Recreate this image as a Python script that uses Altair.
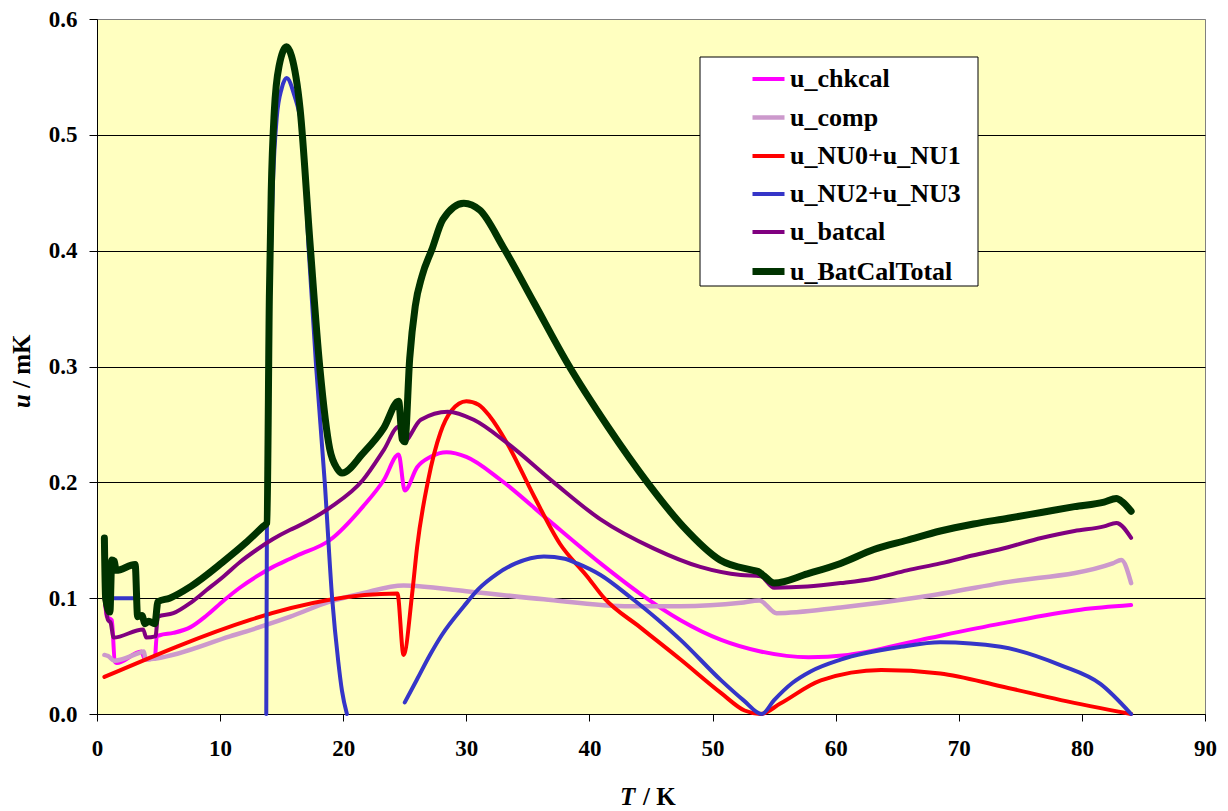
import altair as alt
import pandas as pd

# ---------------- data ----------------
names = ["u_chkcal", "u_comp", "u_NU0+u_NU1", "u_NU2+u_NU3", "u_batcal", "u_BatCalTotal"]
colors = ["#FF00FF", "#CC99CC", "#FF0000", "#3535C8", "#800080", "#003300"]
line_widths = [4, 4.5, 4, 4, 4, 7]

chk_T = [0.6, 0.8, 1.2, 1.45, 1.6, 3.6, 3.9, 4.7, 4.85, 5.1, 6.2, 7.6, 8.9, 10.3, 11.6, 13.0, 14.3,
         15.7, 16.3, 18.9, 21.6, 23.3, 24.5, 25.0, 26.0, 27.1, 28.4, 30.0, 32.8, 36.6, 40.9, 44.1,
         47.4, 50.7, 53.9, 57.8, 61.0, 66.9, 73.4, 79.9, 84.0]
chk_u = [0.104, 0.084, 0.081, 0.045, 0.044, 0.054, 0.047, 0.048, 0.067, 0.068, 0.070, 0.075, 0.085,
         0.098, 0.109, 0.119, 0.127, 0.134, 0.137, 0.150, 0.179, 0.202, 0.224, 0.193, 0.213, 0.222,
         0.226, 0.222, 0.202, 0.168, 0.130, 0.104, 0.081, 0.064, 0.054, 0.049, 0.051, 0.064, 0.078,
         0.090, 0.094]

comp_T = [0.6, 0.9, 1.4, 3.5, 3.8, 3.95, 4.8, 10.8, 13.5, 15.7, 18.9, 21.5, 24.9, 30.0, 36.3, 43.3,
          47.4, 52.3, 53.8, 55.2, 60.4, 66.9, 73.4, 82.5, 83.2, 84.0]
comp_u = [0.051, 0.050, 0.046, 0.053, 0.054, 0.047, 0.048, 0.067, 0.076, 0.084, 0.097, 0.104, 0.111,
          0.106, 0.099, 0.093, 0.093, 0.096, 0.098, 0.087, 0.092, 0.101, 0.113, 0.130, 0.133, 0.113]

nu01_T = [0.6, 24.4, 24.9, 25.6, 26.0, 26.9, 27.9, 28.8, 30.0, 31.0, 31.9, 33.3, 35.5, 37.6, 39.8,
          41.2, 44.1, 47.4, 50.7, 52.6, 53.9, 55.5, 58.8, 63.7, 68.5, 73.4, 78.3, 84.0]
nu01_u = [0.032, 0.104, 0.051, 0.104, 0.144, 0.202, 0.243, 0.262, 0.270, 0.267, 0.257, 0.234, 0.188,
          0.147, 0.119, 0.100, 0.075, 0.047, 0.018, 0.003, 0.000, 0.009, 0.029, 0.038, 0.035, 0.024,
          0.012, 0.000]

# u_NU2+u_NU3 has three separate pieces
nu23_T1 = [0.6, 3.1]
nu23_u1 = [0.100, 0.100]
nu23_T2 = [13.75, 13.8, 14.0, 14.3, 14.6, 15.0, 15.4, 16.0, 16.7, 17.2, 17.8, 18.5, 19.1, 19.6,
           19.9, 20.3]
nu23_u2 = [0.000, 0.160, 0.330, 0.460, 0.515, 0.540, 0.549, 0.535, 0.500, 0.400, 0.300, 0.200,
           0.100, 0.045, 0.020, 0.000]
nu23_T3 = [25.0, 26.0, 27.1, 28.0, 29.8, 31.0, 32.5, 34.0, 36.3, 38.0, 39.0, 40.9, 43.3, 45.5,
           47.4, 50.7, 52.5, 54.0, 55.0, 56.5, 58.0, 60.4, 65.3, 68.5, 73.4, 78.3, 81.5, 84.0]
nu23_u3 = [0.010, 0.030, 0.052, 0.068, 0.093, 0.108, 0.121, 0.130, 0.136, 0.134, 0.130, 0.120,
           0.101, 0.082, 0.064, 0.029, 0.012, 0.000, 0.012, 0.027, 0.037, 0.047, 0.058, 0.062,
           0.058, 0.042, 0.026, 0.000]

bat_T = [0.6, 0.9, 1.1, 1.35, 3.75, 4.0, 4.75, 4.95, 6.2, 7.6, 8.9, 10.3, 11.6, 13.0, 14.3, 15.7,
         16.3, 18.9, 21.6, 23.3, 24.5, 24.9, 26.3, 28.5, 30.6, 33.3, 37.1, 40.9, 45.2, 49.0, 52.3,
         53.9, 55.0, 57.7, 60.4, 63.1, 65.8, 68.5, 71.2, 74.0, 76.7, 79.4, 81.8, 82.8, 84.0]
bat_u = [0.101, 0.081, 0.079, 0.066, 0.073, 0.066, 0.067, 0.084, 0.087, 0.096, 0.107, 0.119, 0.131,
         0.142, 0.151, 0.159, 0.162, 0.178, 0.202, 0.228, 0.248, 0.235, 0.254, 0.261, 0.254, 0.234,
         0.200, 0.168, 0.143, 0.127, 0.120, 0.119, 0.109, 0.110, 0.113, 0.117, 0.124, 0.130, 0.137,
         0.144, 0.152, 0.158, 0.162, 0.165, 0.152]

tot_T = [0.6, 0.7, 1.05, 1.2, 1.4, 1.55, 3.1, 3.3, 3.65, 3.9, 4.2, 4.7, 4.95, 5.9, 7.6, 10.2, 12.0,
         13.5, 13.8, 14.0, 14.15, 14.4, 14.8, 15.4, 15.8, 16.5, 17.3, 18.1, 18.9, 19.5, 19.9, 21.6,
         23.3, 24.5, 24.8, 25.0, 25.4, 25.85, 26.4, 27.2, 28.1, 29.8, 31.1, 33.0, 35.5, 38.2, 41.5,
         44.7, 47.6, 50.6, 53.3, 53.7, 54.2, 55.0, 57.7, 60.4, 63.1, 65.8, 68.5, 71.2, 74.0, 76.7,
         79.4, 81.8, 82.8, 83.3, 84.0]
tot_u = [0.152, 0.100, 0.088, 0.133, 0.132, 0.124, 0.129, 0.084, 0.085, 0.078, 0.080, 0.078, 0.097,
         0.100, 0.110, 0.131, 0.147, 0.162, 0.165, 0.360, 0.450, 0.520, 0.560, 0.576, 0.568, 0.522,
         0.407, 0.299, 0.229, 0.212, 0.208, 0.225, 0.247, 0.270, 0.237, 0.235, 0.307, 0.352, 0.378,
         0.401, 0.427, 0.441, 0.435, 0.403, 0.355, 0.303, 0.248, 0.200, 0.162, 0.133, 0.124, 0.123,
         0.119, 0.113, 0.121, 0.130, 0.142, 0.150, 0.158, 0.164, 0.169, 0.174, 0.179, 0.183, 0.186,
         0.183, 0.175]

x_ticks = [0, 10, 20, 30, 40, 50, 60, 70, 80, 90]
y_ticks = [0.0, 0.1, 0.2, 0.3, 0.4, 0.5, 0.6]


def frame(name, pieces):
    rows = []
    for k, (ts, us) in enumerate(pieces):
        for t, u in zip(ts, us):
            rows.append({"T": t, "u": u, "series": name, "seg": f"{name}-{k}"})
    return pd.DataFrame(rows)


series_data = [
    frame(names[0], [(chk_T, chk_u)]),
    frame(names[1], [(comp_T, comp_u)]),
    frame(names[2], [(nu01_T, nu01_u)]),
    frame(names[3], [(nu23_T1, nu23_u1), (nu23_T2, nu23_u2), (nu23_T3, nu23_u3)]),
    frame(names[4], [(bat_T, bat_u)]),
    frame(names[5], [(tot_T, tot_u)]),
]

FONT = "Liberation Serif"
W, H = 1108, 695

legend = alt.Legend(
    title=None, orient="none", legendX=652, legendY=42, padding=0,
    symbolType="stroke", symbolSize=1024, symbolStrokeWidth=4, labelOffset=2,
    rowPadding=7, labelFont=FONT, labelFontWeight="bold", labelFontSize=26,
    labelColor="black", labelLimit=400,
)

x_enc = alt.X("T:Q", scale=alt.Scale(domain=[0, 90], nice=False),
              axis=alt.Axis(values=x_ticks, grid=False, title=None, tickSize=7,
                            labelPadding=16, labelFlush=False, format="d"))
y_enc = alt.Y("u:Q", scale=alt.Scale(domain=[0, 0.6], nice=False, zero=True),
              axis=alt.Axis(values=y_ticks, grid=True, title=None, tickSize=8,
                            labelPadding=12, format=".1f",
                            gridColor={"condition": {"test": "datum.value >= 0.59",
                                                     "value": "#808080"},
                                       "value": "black"}))
color_enc = alt.Color("series:N", scale=alt.Scale(domain=names, range=colors), legend=legend)
width_enc = alt.StrokeWidth("series:N",
                            scale=alt.Scale(type="ordinal", domain=names, range=line_widths),
                            legend=legend)

# legend box (background only)
box = alt.Chart(pd.DataFrame({"b": [1]})).mark_rect(
    fill="white", stroke="black", strokeWidth=1
).encode(x=alt.value(603), x2=alt.value(881), y=alt.value(38), y2=alt.value(267))

layers = [box]
for df in series_data:
    layers.append(
        alt.Chart(df).mark_line(interpolate="monotone", strokeCap="round", strokeJoin="round")
        .encode(x=x_enc, y=y_enc, color=color_enc, strokeWidth=width_enc, detail="seg:N")
    )

title_style = dict(font=FONT, fontWeight="bold", fontSize=25, color="black")
xt1 = alt.Chart(pd.DataFrame({"s": ["T"]})).mark_text(
    align="left", baseline="alphabetic", fontStyle="italic", **title_style
).encode(text="s:N", x=alt.value(523), y=alt.value(786))
xt2 = alt.Chart(pd.DataFrame({"s": ["/ K"]})).mark_text(
    align="left", baseline="alphabetic", **title_style
).encode(text="s:N", x=alt.value(546), y=alt.value(786))
yt1 = alt.Chart(pd.DataFrame({"s": ["u"]})).mark_text(
    align="left", baseline="alphabetic", angle=270, fontStyle="italic", **title_style
).encode(text="s:N", x=alt.value(-67), y=alt.value(389))
yt2 = alt.Chart(pd.DataFrame({"s": ["/ mK"]})).mark_text(
    align="left", baseline="alphabetic", angle=270, **title_style
).encode(text="s:N", x=alt.value(-67), y=alt.value(369))

chart = alt.layer(*layers, xt1, xt2, yt1, yt2).properties(
    width=W, height=H,
    autosize=alt.AutoSizeParams(type="none"),
    padding={"left": 89, "top": 11, "right": 15, "bottom": 96},
).configure_view(
    fill="#FFFFC0", stroke="#808080", strokeWidth=1
).configure_axis(
    domainColor="black", tickColor="black", labelColor="black",
    labelFont=FONT, labelFontWeight="bold", labelFontSize=23, gridWidth=1,
    domainWidth=1, tickWidth=1,
)

chart.save("out.html", embed_options={"renderer": "svg", "actions": False})
